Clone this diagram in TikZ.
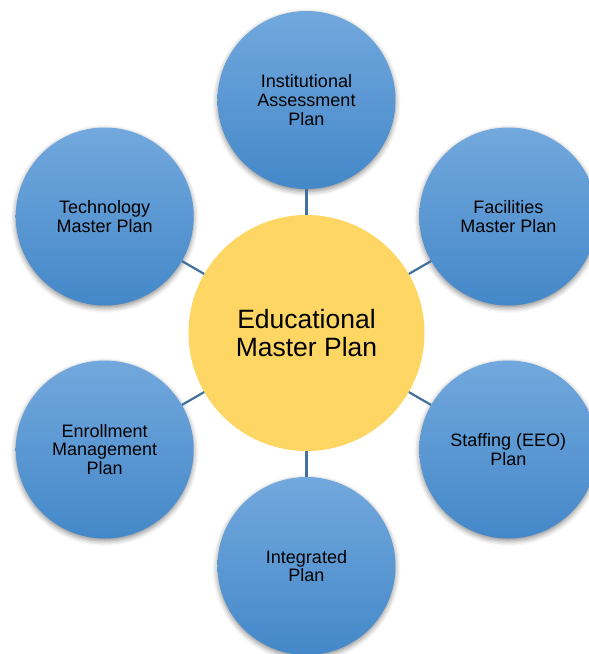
\documentclass[tikz,border=0pt]{standalone}
\usepackage{fontspec}
\setmainfont{Liberation Sans}
\usetikzlibrary{shadows.blur}
\definecolor{bleuhaut}{RGB}{114,168,221}
\definecolor{bleubas}{RGB}{68,136,201}
\definecolor{jaunecentre}{RGB}{253,214,99}
\definecolor{trait}{RGB}{65,113,156}
\begin{document}
\begin{tikzpicture}[x=1pt, y=1pt]
\tikzset{petitnoeud/.style={circle, minimum size=178pt, inner sep=0pt, align=center,
    top color=bleuhaut, bottom color=bleubas,
    blur shadow={shadow xshift=0pt, shadow yshift=-2.5pt, shadow blur radius=5pt, shadow opacity=45},
    font=\fontsize{18}{18.8}\selectfont},
  grandnoeud/.style={circle, minimum size=236pt, inner sep=0pt, align=center,
    fill=jaunecentre, font=\fontsize{26.5}{27.5}\selectfont},
  lien/.style={draw=trait, line width=2.2pt}}
\useasboundingbox (-306.5, -321) rectangle (282.5, 333);
\clip (-306.5, -321) rectangle (282.5, 333);
\node[grandnoeud] (hub) at (0, 0) {Educational\\Master Plan};
\node[petitnoeud] (P1) at (90:233) {Institutional\\Assessment\\Plan};
\node[petitnoeud] (P2) at (30:233) {Facilities\\Master Plan};
\node[petitnoeud] (P3) at (-30:233) {Staffing (EEO)\\Plan};
\node[petitnoeud] (P4) at (-90:233) {Integrated\\Plan};
\node[petitnoeud] (P5) at (210:233) {Enrollment\\Management\\Plan};
\node[petitnoeud] (P6) at (150:233) {Technology\\Master Plan};
\draw[lien] (hub) -- (P1);
\draw[lien] (hub) -- (P2);
\draw[lien] (hub) -- (P3);
\draw[lien] (hub) -- (P4);
\draw[lien] (hub) -- (P5);
\draw[lien] (hub) -- (P6);
\end{tikzpicture}
\end{document}
